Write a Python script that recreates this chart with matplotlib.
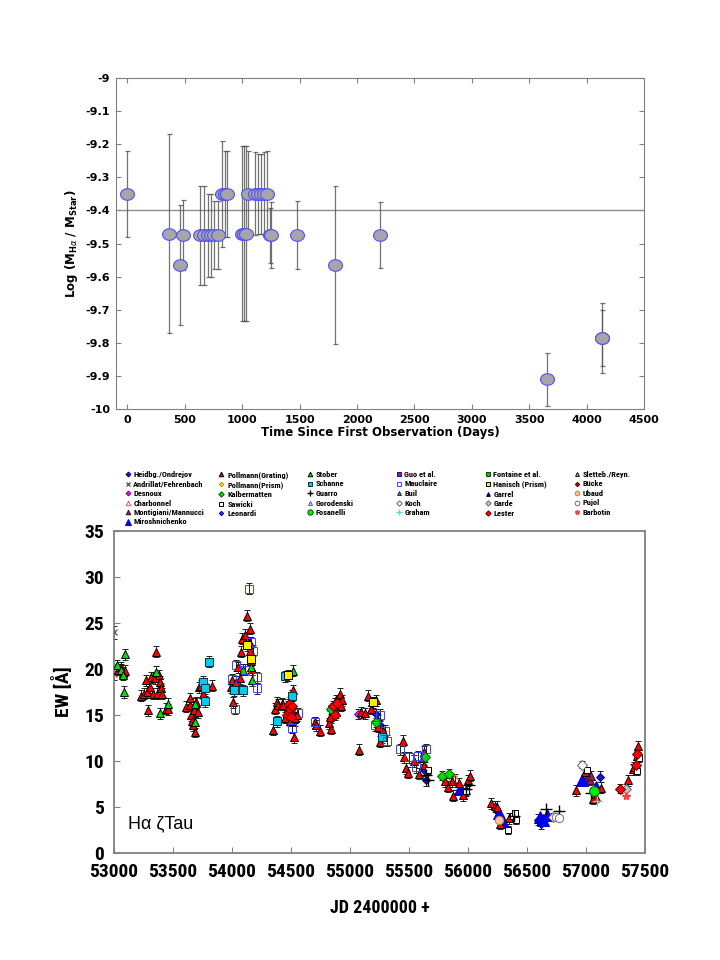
import matplotlib
matplotlib.use('Agg')
import matplotlib.pyplot as plt
import numpy as np
from matplotlib.path import Path
from matplotlib.ticker import FuncFormatter, MultipleLocator
from matplotlib import font_manager

# ---- top panel: disc mass vs time ----
days = [0, 366, 456, 483, 636, 669, 699, 732, 759, 789, 822, 849, 872,
        999, 1015, 1038, 1055, 1115, 1138, 1165, 1188, 1215, 1241, 1255,
        1475, 1807, 2197, 3655, 4134, 4134]
log_mass = [-9.35, -9.47, -9.565, -9.475, -9.475, -9.475, -9.475, -9.475, -9.475, -9.475,
            -9.35, -9.35, -9.35, -9.47, -9.47, -9.47, -9.35, -9.35, -9.35, -9.35,
            -9.35, -9.35, -9.475, -9.475, -9.475, -9.565, -9.475, -9.91, -9.785, -9.785]
log_err = [0.13, 0.30, 0.18, 0.105, 0.15, 0.15, 0.125, 0.125, 0.103, 0.103,
           0.16, 0.13, 0.13, 0.265, 0.265, 0.265, 0.13, 0.125, 0.12, 0.12,
           0.125, 0.13, 0.083, 0.10, 0.103, 0.24, 0.10, 0.08, 0.105, 0.085]
mean_level = -9.4

# ---- bottom panel: H-alpha EW of zeta Tau ----
pollmann_g_jd = [53030, 53060, 53080, 53095, 53232, 53251, 53268, 53280, 53288, 53302, 53316, 53330,
                 53345, 53359, 53364, 53378, 53387, 53401, 53410, 53444, 53458, 53613, 53642, 53642,
                 53656, 53664, 53670, 53675, 53684, 53698, 53712, 53720, 53740, 53754, 53833, 53989,
                 54003, 54008, 54023, 54037, 54051, 54065, 54079, 54088, 54108, 54127, 54150, 54150,
                 54156, 54164, 54172, 54344, 54364, 54378, 54392, 54420, 54434, 54449, 54463, 54477,
                 54491, 54491, 54505, 54519, 54525, 54533, 54547, 54700, 54714, 54742, 54822, 54833,
                 54842, 54856, 54870, 54884, 54884, 54898, 54912, 54927, 54935, 55074, 55096, 55124,
                 55153, 55181, 55189, 55223, 55237, 55257, 55280, 55449, 55461, 55476, 55490, 55546,
                 55588, 55616, 55631, 55631, 55806, 55828, 55862, 55873, 55927, 55958, 55986, 56000,
                 56014, 56198, 56226, 56249, 56268, 56350, 56918, 56989, 57059, 57088, 57124, 57359,
                 57398, 57407, 57435, 57441]
pollmann_g_ew = [19.9, 20.2, 19.6, 19.8, 17.1, 17.3, 18.8, 17.5, 15.5, 18.0, 19.1, 17.3,
                 19.0, 21.9, 17.3, 19.3, 18.6, 17.9, 17.3, 15.7, 15.6, 15.9, 16.1, 16.8,
                 15.0, 14.4, 13.9, 15.5, 13.2, 16.4, 15.3, 18.0, 18.2, 17.3, 18.2, 18.0,
                 18.8, 16.4, 18.0, 18.6, 20.2, 19.0, 21.9, 23.3, 23.7, 25.8, 24.4, 22.8,
                 22.0, 20.9, 20.0, 13.4, 15.7, 16.4, 16.1, 16.2, 16.1, 14.7, 15.2, 15.9,
                 16.4, 14.4, 15.5, 17.7, 12.6, 14.7, 15.0, 14.2, 13.9, 13.3, 14.1, 14.8,
                 13.5, 15.7, 16.2, 15.3, 16.6, 16.4, 17.3, 16.0, 16.6, 11.2, 15.3, 15.2,
                 17.1, 15.7, 16.4, 16.6, 13.7, 12.1, 13.3, 12.2, 10.4, 9.2, 8.7, 10.0,
                 8.6, 10.3, 9.6, 11.0, 7.8, 7.2, 7.8, 6.2, 7.6, 6.3, 6.8, 7.9,
                 8.4, 5.4, 5.1, 5.0, 3.2, 3.8, 6.8, 8.8, 5.9, 6.1, 7.1, 7.9,
                 9.1, 9.3, 10.5, 11.6]
stober_jd = [53025, 53062, 53076, 53090, 53082, 53359, 53387, 53458, 53684, 53684, 54093, 54158, 54172, 54519]
stober_ew = [20.4, 19.9, 19.4, 21.6, 17.5, 19.7, 15.2, 16.2, 16.2, 14.2, 19.9, 20.2, 18.8, 19.8]
schanne_jd = [53754, 53768, 53768, 53808, 54017, 54090, 54384, 54505, 54452, 55274]
schanne_ew = [18.6, 17.9, 16.5, 20.8, 17.7, 17.7, 14.3, 17.1, 19.2, 12.6]
mauclaire_jd = [54141, 54000, 54023, 54037, 54108, 54164, 54178, 54212, 54212, 54505, 54561, 54706,
                55209, 55251, 55294, 55314, 55427, 55504, 55574, 55645, 55560]
mauclaire_ew = [28.7, 18.9, 15.7, 20.4, 19.9, 22.9, 22.0, 19.1, 17.9, 13.6, 15.2, 14.2,
                13.9, 15.0, 13.3, 12.2, 11.3, 10.4, 10.5, 11.3, 9.3]
hanisch_jd = [54130, 54164, 54477, 55195]
hanisch_ew = [22.6, 21.1, 19.3, 16.4]
heidbg_jd = [54533, 55223, 55237, 55257, 55274, 55631, 55645, 56593, 56622, 57116]
heidbg_ew = [14.4, 15.1, 14.4, 13.9, 13.3, 9.0, 7.9, 3.6, 3.2, 8.3]
andrillat_jd = [53000, 53000]
andrillat_ew = [24.0, 19.5]
lester_jd = [54470, 54480, 54485, 54495, 54500, 54510, 54860, 54875, 54890, 57285, 57420, 57432]
lester_ew = [15.0, 15.3, 16.2, 15.6, 14.8, 16.0, 16.0, 15.0, 16.3, 7.0, 9.6, 10.8]
kalber_jd = [54842, 55217, 55639, 55777, 55836]
kalber_ew = [15.6, 14.2, 10.4, 8.4, 8.6]
desnoux_jd = [55068]
desnoux_ew = [15.1]
charbonnel_jd = [55890]
charbonnel_ew = [8.1]
guarro_jd = [55645, 55659, 55983, 56005, 56392, 56664, 56771, 57040]
guarro_ew = [8.5, 7.9, 7.0, 7.4, 4.0, 4.8, 4.6, 6.5]
sawicki_jd = [55660, 55985, 56339, 56380, 56395, 56410, 57009, 57432, 57446]
sawicki_ew = [9.0, 6.7, 2.5, 4.0, 4.3, 3.6, 9.0, 8.9, 10.3]
miro_jd = [55932, 56260, 56297, 56607, 56636, 56670, 56963, 57088]
miro_ew = [7.0, 4.3, 3.4, 3.9, 3.6, 4.1, 7.9, 7.2]
ubaud_jd = [56263]
ubaud_ew = [3.6]
koch_jd = [56720, 56963]
koch_ew = [3.9, 9.6]
pujol_jd = [56745, 56771]
pujol_ew = [3.9, 3.8]
montigiani_jd = [57017, 57031, 57045]
montigiani_ew = [8.3, 7.9, 8.4]
graham_jd = [57096]
graham_ew = [5.7]
garde_jd = [57336]
garde_ew = [7.0]
barbotin_jd = [57336]
barbotin_ew = [6.2]
fosanelli_jd = [57068]
fosanelli_ew = [6.7]

# label, x, y, err, marker, face, edge, size  (legend order = column-wise)
series = [
    ('Heidbg./Ondrejov', heidbg_jd, heidbg_ew, 0.6, 'D', '#1818c8', '#000080', 4.5),
    ('Andrillat/Fehrenbach', andrillat_jd, andrillat_ew, 0.7, 'x', '#606060', '#606060', 4),
    ('Desnoux', desnoux_jd, desnoux_ew, 0.5, 'D', '#e020e0', '#800080', 4.5),
    ('Charbonnel', charbonnel_jd, charbonnel_ew, 0.5, '^', 'none', '#ff5050', 6),
    ('Montigiani/Mannucci', montigiani_jd, montigiani_ew, 0.5, '^', '#8b2252', '#401020', 6),
    ('Miroshnichenko', miro_jd, miro_ew, 0.0, '^', '#0000ff', '#0000cc', 9),
    ('Pollmann(Grating)', pollmann_g_jd, pollmann_g_ew, 0.6, '^', '#ff0000', '#000000', 6),
    ('Pollmann(Prism)', [], [], 0.0, 'D', '#ffff00', '#c08000', 4),
    ('Kalbermatten', kalber_jd, kalber_ew, 0.5, 'D', '#00dd00', '#006000', 5),
    ('Sawicki', sawicki_jd, sawicki_ew, 0.4, 's', 'white', '#000000', 5),
    ('Leonardi', [], [], 0.0, 'D', '#2040ff', '#0000a0', 4),
    ('Stober', stober_jd, stober_ew, 0.6, '^', '#00e000', '#000000', 6),
    ('Schanne', schanne_jd, schanne_ew, 0.6, 's', '#00ccee', '#003040', 6),
    ('Guarro', guarro_jd, guarro_ew, 0.0, '+', '#000000', '#000000', 8),
    ('Gorodenski', [], [], 0.0, '^', 'none', '#4040ff', 5),
    ('Fosanelli', fosanelli_jd, fosanelli_ew, 0.0, 'o', '#00ee00', '#006000', 7),
    ('Guo et al.', [], [], 0.0, 's', '#ff0000', '#0000ff', 5),
    ('Mauclaire', mauclaire_jd, mauclaire_ew, 0.6, 's', 'none', '#4040ff', 6),
    ('Buil', [], [], 0.0, '^', '#20a0c0', '#003040', 5),
    ('Koch', koch_jd, koch_ew, 0.4, 'D', 'white', '#606060', 5),
    ('Graham', graham_jd, graham_ew, 0.0, '+', '#40e0f0', '#40e0f0', 7),
    ('Fontaine et al.', [], [], 0.0, 's', '#00cc00', '#004000', 5),
    ('Hanisch (Prism)', hanisch_jd, hanisch_ew, 0.6, 's', '#ffee00', '#000000', 6),
    ('Garrel', [], [], 0.0, '^', '#000080', '#000040', 5),
    ('Garde', garde_jd, garde_ew, 0.0, 'D', '#c0c0c0', '#707070', 5),
    ('Lester', lester_jd, lester_ew, 0.5, 'D', '#ff0000', '#600000', 5),
    ('Sletteb./Reyn.', [], [], 0.0, '^', '#ffee00', '#000000', 5),
    ('Bücke', [], [], 0.0, 'D', '#cc0000', '#400000', 4),
    ('Ubaud', ubaud_jd, ubaud_ew, 0.0, 'o', '#f5c890', '#c08040', 6),
    ('Pujol', pujol_jd, pujol_ew, 0.0, 'o', 'white', '#707070', 6),
    ('Barbotin', barbotin_jd, barbotin_ew, 0.0, '*', '#ff4040', '#ff4040', 6),
]
legend_cols = [6, 5, 5, 5, 5, 5]
legend_x = [128, 222, 310, 399, 488, 577]

# narrow bold face for the lower panel (Arial Narrow look-alike)
bold_faces = {f.name for f in font_manager.fontManager.ttflist if f.weight in (700, 'bold')}
narrow_name = 'DejaVu Sans'
for cand in ['Liberation Sans Narrow', 'Roboto Condensed', 'PT Sans Narrow',
             'Arimo', 'Barlow Semi Condensed', 'Asap Condensed']:
    if cand in bold_faces:
        narrow_name = cand
        break
narrow = [narrow_name, 'DejaVu Sans']
frame_col = '#808080'

fig = plt.figure(figsize=(7.2, 9.6), dpi=100)

# ---------- top ----------
ax1 = fig.add_axes([115.7 / 720, 1 - 409 / 960, 528.6 / 720, 331 / 960])
t = np.linspace(0, 2 * np.pi, 60)
ellipse = Path(np.column_stack([1.2 * np.cos(t), np.sin(t)]))
ax1.axhline(mean_level, color='#909090', lw=1)
ax1.errorbar(days, log_mass, yerr=log_err, fmt='none', ecolor='#505050',
             elinewidth=0.9, capsize=1.8, capthick=0.9, alpha=0.8)
ax1.plot(days, log_mass, ls='none', marker=ellipse, ms=10, mfc='#a6a6a6',
         mec='#5050ff', mew=0.8)
ax1.set_xlim(-100, 4500)
ax1.set_ylim(-10, -9)
ax1.xaxis.set_major_locator(MultipleLocator(500))
ax1.yaxis.set_major_locator(MultipleLocator(0.1))
ax1.yaxis.set_major_formatter(FuncFormatter(lambda v, p: '%g' % round(v, 2)))
ax1.tick_params(direction='in', length=3.5, color=frame_col, top=True, right=True,
                labelsize=8, pad=4)
for lab in ax1.get_xticklabels() + ax1.get_yticklabels():
    lab.set_fontweight('bold')
for s in ax1.spines.values():
    s.set_color(frame_col)
ax1.set_xlabel('Time Since First Observation (Days)', fontsize=8.5, fontweight='bold', labelpad=1)
ax1.set_ylabel(r'Log (M$_{\mathbf{H}\alpha}$ / M$_{\mathbf{Star}}$)', fontsize=8.5,
               fontweight='bold', labelpad=4)

# ---------- bottom ----------
ax2 = fig.add_axes([114 / 720, 1 - 853 / 960, 531 / 720, 322 / 960])
handles = []
for label, x, y, err, mk, fc, ec, ms in series:
    if err > 0 and len(x):
        ax2.errorbar(x, y, yerr=err, fmt='none', ecolor='#202020', elinewidth=0.7,
                     capsize=2, capthick=0.7, zorder=2)
    if mk in ('x', '+', '*'):
        h, = ax2.plot(x, y, ls='none', marker=mk, ms=ms, color=fc, mew=1.0, label=label, zorder=3)
    else:
        h, = ax2.plot(x, y, ls='none', marker=mk, ms=ms, mfc=fc, mec=ec, mew=0.7,
                      label=label, zorder=3)
    handles.append(h)

ax2.set_xlim(53000, 57500)
ax2.set_ylim(0, 35)
ax2.xaxis.set_major_locator(MultipleLocator(500))
ax2.yaxis.set_major_locator(MultipleLocator(5))
ax2.tick_params(direction='in', length=4, color=frame_col, labelsize=14, pad=7)
for lab in ax2.get_xticklabels() + ax2.get_yticklabels():
    lab.set_fontweight('bold')
    lab.set_family(narrow)
for s in ax2.spines.values():
    s.set_color(frame_col)
    s.set_linewidth(1.3)
ax2.set_ylabel('EW [Å]', fontsize=14, fontweight='bold', family=narrow, labelpad=8)
ax2.set_xlabel('JD 2400000 +', fontsize=13, fontweight='bold', family=narrow, labelpad=13)
ax2.text(53119, 3.2, 'Hα ζTau', fontsize=13, family=['Liberation Sans', 'DejaVu Sans'],
         va='center', ha='left')

# legend: six separate columns above the panel
start = 0
for ncol_items, xp in zip(legend_cols, legend_x):
    hs = handles[start:start + ncol_items]
    start += ncol_items
    fig.legend(handles=hs, labels=[h.get_label() for h in hs], loc='upper left',
               bbox_to_anchor=((xp - 3) / 720, 1 - 471 / 960), frameon=False,
               prop={'family': narrow, 'weight': 'bold', 'size': 6},
               handlelength=0.6, handletextpad=0.4, borderpad=0, borderaxespad=0,
               labelspacing=0.3, markerscale=0.55)

fig.savefig('out.png', dpi=100)
